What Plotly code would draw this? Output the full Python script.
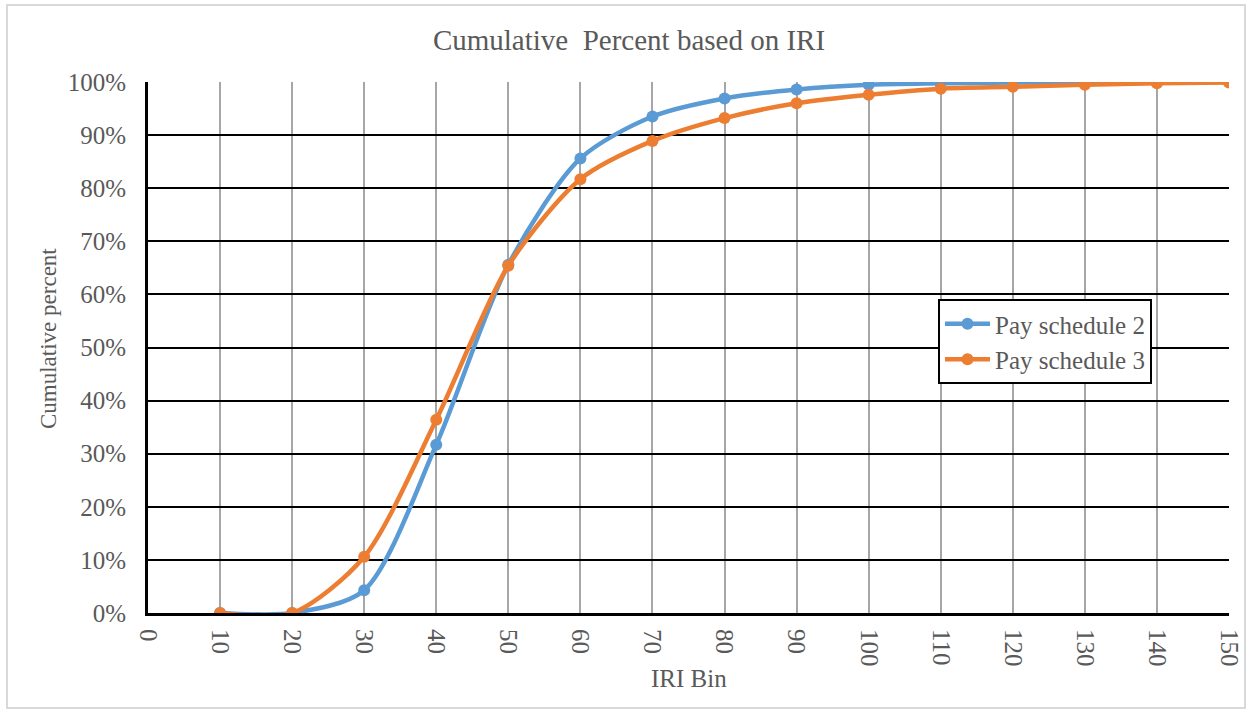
import plotly.graph_objects as go

iri_bins = [10, 20, 30, 40, 50, 60, 70, 80, 90, 100, 110, 120, 130, 140, 150]
pay_schedule_2 = [0.0, 0.0, 4.3, 31.7, 65.6, 85.6, 93.5, 96.9, 98.6, 99.5, 99.75, 99.9, 100.0, 100.0, 100.0]
pay_schedule_3 = [0.0, 0.0, 10.6, 36.4, 65.4, 81.7, 88.9, 93.2, 96.0, 97.6, 98.75, 99.1, 99.5, 99.75, 99.9]
x_ticks = list(range(0, 151, 10))
y_ticks = list(range(0, 101, 10))
y_tick_labels = [f"{v}%" for v in y_ticks]

FONT = "Liberation Serif"
GRAY = "#595959"

L, R, T, B = 148, 1229, 82, 613
PW, PH = R - L, B - T

def px(xp):
    return (xp - L) / PW

def py(yp):
    return (B - yp) / PH

fig = go.Figure()
fig.add_trace(go.Scatter(
    x=iri_bins, y=pay_schedule_2, name="Pay schedule 2",
    mode="lines+markers", line=dict(color="#5B9BD5", width=4.5, shape="spline", smoothing=0.8),
    marker=dict(size=12, color="#5B9BD5"),
))
fig.add_trace(go.Scatter(
    x=iri_bins, y=pay_schedule_3, name="Pay schedule 3",
    mode="lines+markers", line=dict(color="#ED7D31", width=4.5, shape="spline", smoothing=0.8),
    marker=dict(size=12, color="#ED7D31"),
))

fig.update_layout(
    width=1252, height=715,
    margin=dict(l=L, r=1252 - R, t=T, b=715 - B, autoexpand=False),
    paper_bgcolor="white", plot_bgcolor="white",
    font=dict(family=FONT, color=GRAY, size=25),
    title=dict(text="Cumulative  Percent based on IRI", x=629 / 1252, xanchor="center",
               y=1 - 40 / 715, yanchor="middle", font=dict(family=FONT, size=29, color=GRAY)),
    showlegend=True,
    legend=dict(x=px(938), y=py(299), xanchor="left", yanchor="top",
                bordercolor="black", borderwidth=2, bgcolor="white",
                font=dict(family=FONT, size=25, color=GRAY), itemwidth=45, tracegroupgap=0),
    xaxis=dict(range=[0, 150], tickmode="array", tickvals=x_ticks, ticktext=[str(v) for v in x_ticks],
               tickangle=90, showgrid=True, gridcolor="#A6A6A6", gridwidth=2,
               showline=True, linecolor="black", linewidth=3, zeroline=False, ticks="",
               ticklabelstandoff=8, automargin=False,
               tickfont=dict(family=FONT, size=25, color=GRAY)),
    yaxis=dict(range=[0, 100], tickmode="array", tickvals=y_ticks, ticktext=y_tick_labels,
               showgrid=True, gridcolor="black", gridwidth=2,
               showline=True, linecolor="black", linewidth=3, zeroline=False, ticks="",
               ticklabelstandoff=14, automargin=False,
               tickfont=dict(family=FONT, size=25, color=GRAY)),
    annotations=[
        dict(text="IRI Bin", xref="paper", yref="paper", x=px(689), y=py(678),
             xanchor="center", yanchor="middle", showarrow=False,
             font=dict(family=FONT, size=25, color=GRAY)),
        dict(text="Cumulative percent", xref="paper", yref="paper", x=px(48), y=py(339),
             xanchor="center", yanchor="middle", showarrow=False, textangle=-90,
             font=dict(family=FONT, size=23, color=GRAY)),
    ],
    shapes=[dict(type="rect", xref="paper", yref="paper",
                 x0=px(7), x1=px(1245), y0=py(708), y1=py(5),
                 line=dict(color="#D9D9D9", width=2), fillcolor="rgba(0,0,0,0)", layer="below")],
)

fig.write_html("out.html")
